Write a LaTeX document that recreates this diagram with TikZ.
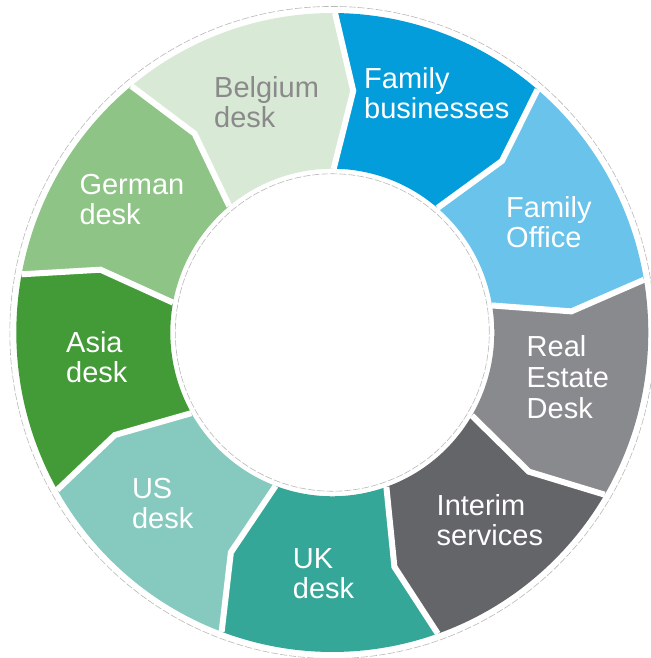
\documentclass[tikz,border=0pt]{standalone}
\usepackage{fontspec}
\setmainfont{Liberation Sans}
\definecolor{cfb}{HTML}{049DDC}
\definecolor{cfo}{HTML}{69C3EB}
\definecolor{cre}{HTML}{888A8D}
\definecolor{cis}{HTML}{636569}
\definecolor{cuk}{HTML}{35A798}
\definecolor{cus}{HTML}{86C9BE}
\definecolor{cas}{HTML}{429B37}
\definecolor{cge}{HTML}{8EC486}
\definecolor{cbe}{HTML}{D8EAD6}
\definecolor{cbetext}{HTML}{8A8A8A}
\definecolor{cdash}{HTML}{B8B8B8}
\begin{document}
\begin{tikzpicture}[x=1pt,y=-1pt,
  lbl/.style={anchor=base west, align=left, inner sep=0pt, text=white,
    font=\fontsize{29}{30}\selectfont},
  sep/.style={white, line width=6pt},
  ringdash/.style={cdash, line width=0.6pt, dash pattern=on 7pt off 2pt}]
\useasboundingbox (0,0) rectangle (650,658);
\begin{scope}[shift={(332.3,332.5)}, yscale=-1.011]
  \foreach \c [count=\i from 0] in {cfb,cfo,cre,cis,cuk,cus,cas,cge,cbe} {
    \pgfmathsetmacro\a{89.5-40*\i}
    \pgfmathsetmacro\b{\a-40}
    \fill[\c] (\a:162) -- (\a-4.5:240) -- (\a:316)
      arc[start angle=\a, end angle=\b, radius=316]
      -- (\b-4.5:240) -- (\b:162)
      arc[start angle=\b, end angle=\a, radius=162] -- cycle;
  }
  \foreach \i in {0,...,8} {
    \pgfmathsetmacro\a{89.5-40*\i}
    \draw[sep] (\a:162) -- (\a-4.5:240) -- (\a:316);
  }
  \draw[ringdash] (0,0) circle[radius=157];
  \draw[ringdash] (0,0) circle[radius=322.5];
\end{scope}
\node[lbl, text=cbetext] (be) at (214,128) {Belgium\\desk};
\node[lbl] (fb) at (364,118.3) {Family\\businesses};
\node[lbl] (fo) at (506,247.3) {Family\\Office};
\node[lbl, font=\fontsize{29}{31}\selectfont] (re) at (526.5,418) {Real\\Estate\\Desk};
\node[lbl] (is) at (436.5,545) {Interim\\services};
\node[lbl] (uk) at (292.7,598) {UK\\desk};
\node[lbl] (us) at (131.8,528) {US\\desk};
\node[lbl] (as) at (66,382.7) {Asia\\desk};
\node[lbl] (ge) at (79.3,224.3) {German\\desk};
\end{tikzpicture}
\end{document}
